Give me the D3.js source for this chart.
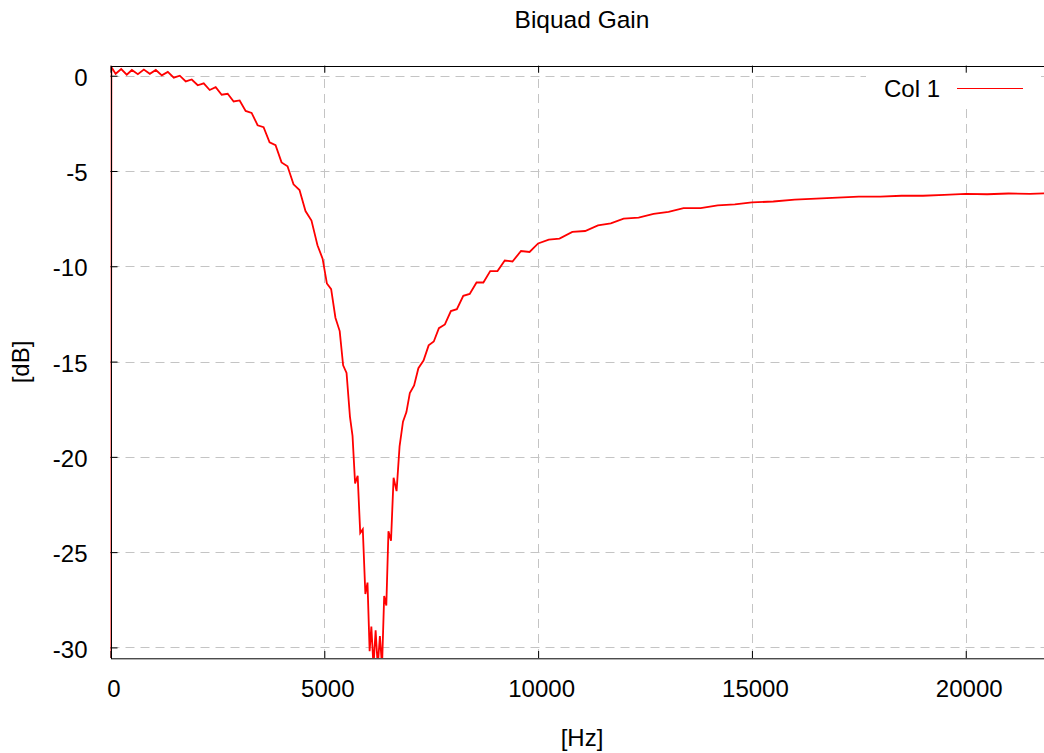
<!DOCTYPE html>
<html>
<head>
<meta charset="utf-8">
<script src="https://cdn.jsdelivr.net/npm/d3@7"></script>
<style>
  body { margin: 0; background: #fff; }
  svg text { font-family: "Liberation Sans", Arial, sans-serif; fill: #000; }
</style>
</head>
<body>
<svg id="chart" width="1044" height="753"></svg>
<script>
// values (Hz, dB)
var freqs = [0, 20, 120, 250, 380, 500, 640, 780, 920, 1060, 1200, 1340, 1480, 1620, 1760, 1900,
  2040, 2180, 2320, 2460, 2600, 2740, 2880, 3020, 3160, 3300, 3440, 3580, 3720, 3860, 4000,
  4140, 4280, 4420, 4560, 4700, 4840, 4960, 5060, 5160, 5260, 5360, 5440, 5520, 5600, 5660,
  5720, 5780, 5840, 5900, 5960, 6010, 6060, 6100, 6150, 6200, 6250, 6300, 6350, 6400, 6450,
  6500, 6560, 6620, 6690, 6760, 6840, 6920, 7000, 7100, 7200, 7320, 7440, 7560, 7680, 7820,
  7960, 8100, 8250, 8400, 8560, 8720, 8880, 9050, 9220, 9400, 9600, 9800, 10000, 10250, 10500,
  10800, 11100, 11400, 11700, 12000, 12350, 12700, 13050, 13400, 13800, 14200, 14600, 15000,
  15500, 16000, 16500, 17000, 17500, 18000, 18500, 19000, 19500, 20000, 20500, 21000, 21500, 22050];
var gains = [-60, 0.45, 0.1, 0.35, 0.05, 0.3, 0.08, 0.32, 0.1, 0.3, 0.02, 0.2, -0.1, 0.0, -0.3, -0.2,
  -0.5, -0.4, -0.75, -0.6, -1.0, -0.95, -1.35, -1.3, -1.85, -1.95, -2.6, -2.7, -3.5, -3.65, -4.55,
  -4.75, -5.7, -6.0, -7.1, -7.6, -8.9, -9.6, -10.9, -11.2, -12.7, -13.4, -15.2, -15.6, -17.9, -18.9,
  -21.4, -21.0, -24.0, -23.8, -27.2, -26.6, -30.2, -28.9, -31, -29.1, -31, -29.4, -31, -27.3, -27.8,
  -23.9, -24.4, -21.1, -21.8, -19.45, -18.15, -17.65, -16.65, -16.25, -15.35, -14.95, -14.15, -13.95, -13.25, -13.05,
  -12.35, -12.25, -11.55, -11.45, -10.85, -10.85, -10.25, -10.25, -9.7, -9.75, -9.2, -9.25, -8.8, -8.6, -8.55,
  -8.2, -8.15, -7.85, -7.75, -7.5, -7.45, -7.25, -7.15, -6.95, -6.95, -6.8, -6.75, -6.65,
  -6.6, -6.5, -6.45, -6.4, -6.35, -6.35, -6.3, -6.3, -6.25, -6.2, -6.22, -6.18, -6.2, -6.15];
var xTicks = [0, 5000, 10000, 15000, 20000];
var yTicks = [0, -5, -10, -15, -20, -25, -30];
var seriesName = "Col 1";

var svg = d3.select("#chart"),
    plotLeft = 110.5, plotRight = 1053.4, plotTop = 65.7, plotBottom = 658;

var x = d3.scaleLinear().domain([0, 22050]).range([plotLeft, plotRight]);
var y = d3.scaleLinear().domain([-30.555, 0.525]).range([plotBottom, plotTop]);

// gnuplot prints plain hyphen minus
var plainNum = function(d) { return String(d); };

svg.append("defs").append("clipPath").attr("id", "plotclip")
    .append("rect")
    .attr("x", plotLeft).attr("y", plotTop)
    .attr("width", plotRight - plotLeft).attr("height", plotBottom - plotTop);

// grid
var grid = svg.append("g").attr("stroke", "#c4c4c4").attr("stroke-width", 1)
    .attr("stroke-dasharray", "9,6").attr("fill", "none");
grid.selectAll(".gx").data(xTicks.slice(1)).enter().append("line")
    .attr("x1", function(d) { return Math.round(x(d)) + 0.5; })
    .attr("x2", function(d) { return Math.round(x(d)) + 0.5; })
    .attr("y1", plotBottom).attr("y2", plotTop);
grid.selectAll(".gy").data(yTicks).enter().append("line")
    .attr("y1", function(d) { return Math.round(y(d)) + 0.5; })
    .attr("y2", function(d) { return Math.round(y(d)) + 0.5; })
    .attr("x1", plotLeft).attr("x2", plotRight);

// opaque key box
svg.append("rect").attr("x", 866).attr("y", 69).attr("width", 175).attr("height", 34).attr("fill", "#fff");

// curve
var line = d3.line()
    .x(function(d) { return x(d[0]); })
    .y(function(d) { return y(d[1]); });
svg.append("path")
    .datum(d3.zip(freqs, gains))
    .attr("clip-path", "url(#plotclip)")
    .attr("fill", "none")
    .attr("stroke", "#ff0000")
    .attr("stroke-width", 1.8)
    .attr("stroke-linejoin", "miter")
    .attr("d", line);

// frame
svg.append("rect")
    .attr("x", Math.round(plotLeft) + 0.5).attr("y", Math.round(plotTop) + 0.5)
    .attr("width", plotRight - plotLeft).attr("height", plotBottom - plotTop)
    .attr("fill", "none").attr("stroke", "#000").attr("stroke-width", 1);

// axes (ticks inward, mirrored on top)
function styleAxis(g) {
    g.select(".domain").remove();
    g.selectAll(".tick line").attr("stroke", "#000");
    g.selectAll(".tick text").attr("font-size", 24)
        .attr("font-family", "Liberation Sans, Arial, sans-serif").attr("fill", "#000");
}
svg.append("g").attr("transform", "translate(0," + plotBottom + ")")
    .call(d3.axisBottom(x).tickValues(xTicks).tickSizeInner(-7).tickPadding(22).tickFormat(plainNum))
    .call(styleAxis)
    .selectAll(".tick text").attr("dx", 3);
svg.append("g").attr("transform", "translate(0," + plotTop + ")")
    .call(d3.axisTop(x).tickValues(xTicks).tickSizeInner(-7).tickFormat(""))
    .call(styleAxis);
svg.append("g").attr("transform", "translate(" + plotLeft + ",0)")
    .call(d3.axisLeft(y).tickValues(yTicks).tickSizeInner(-7).tickPadding(23).tickFormat(plainNum))
    .call(styleAxis)
    .selectAll(".tick text").attr("dy", "0.40em");

// titles
svg.append("text").attr("x", 582).attr("y", 28).attr("text-anchor", "middle")
    .attr("font-size", 24.5).text("Biquad Gain");
svg.append("text").attr("x", 582).attr("y", 746).attr("text-anchor", "middle")
    .attr("font-size", 24).text("[Hz]");
svg.append("text").attr("transform", "translate(29,362) rotate(-90)").attr("text-anchor", "middle")
    .attr("font-size", 24).text("[dB]");

// legend
svg.append("text").attr("x", 940).attr("y", 97).attr("text-anchor", "end")
    .attr("font-size", 24).text(seriesName);
svg.append("line").attr("x1", 957).attr("x2", 1023).attr("y1", 88.5).attr("y2", 88.5)
    .attr("stroke", "#ff0000").attr("stroke-width", 1);
</script>
</body>
</html>
